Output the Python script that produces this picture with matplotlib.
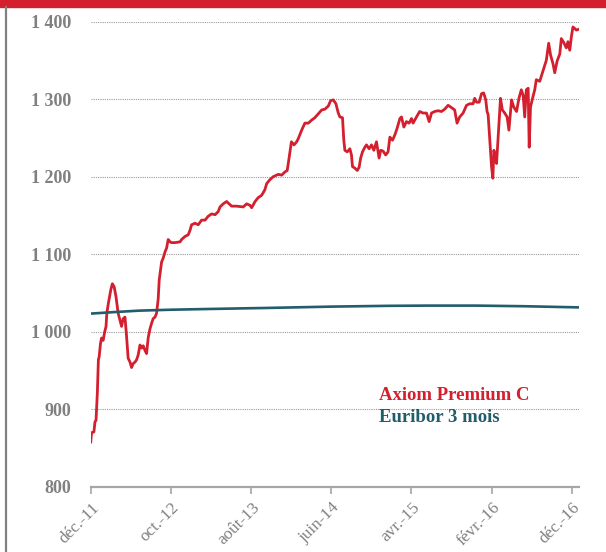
import matplotlib
matplotlib.use("Agg")
import matplotlib.pyplot as plt
import pandas as pd

# Axiom Premium C — valeur liquidative
axiom_dates = [
    "2011-11-30", "2011-12-03", "2011-12-12", "2011-12-16", "2011-12-20", "2011-12-25", "2011-12-29",
    "2012-01-01", "2012-01-06", "2012-01-10", "2012-01-16", "2012-01-22", "2012-01-27", "2012-01-30",
    "2012-02-05", "2012-02-14", "2012-02-20", "2012-02-27", "2012-03-05", "2012-03-13", "2012-03-20",
    "2012-03-26", "2012-04-01", "2012-04-08", "2012-04-14", "2012-04-20", "2012-04-27", "2012-05-03",
    "2012-05-09", "2012-05-16", "2012-05-22", "2012-05-28", "2012-06-04", "2012-06-10", "2012-06-16",
    "2012-06-23", "2012-06-29", "2012-07-05", "2012-07-12", "2012-07-18", "2012-07-24", "2012-07-31",
    "2012-08-06", "2012-08-12", "2012-08-16", "2012-08-21", "2012-08-25", "2012-08-31", "2012-09-07",
    "2012-09-13", "2012-09-19", "2012-09-26", "2012-10-02", "2012-10-15", "2012-11-03", "2012-11-09",
    "2012-11-22", "2012-12-04", "2012-12-11", "2012-12-17", "2012-12-30",
    "2013-01-11", "2013-01-24", "2013-02-06", "2013-02-18", "2013-03-03", "2013-03-16", "2013-03-28",
    "2013-04-04", "2013-04-16", "2013-04-29", "2013-05-05", "2013-05-18", "2013-06-06", "2013-07-01",
    "2013-07-14", "2013-07-27", "2013-08-02", "2013-08-15", "2013-08-27", "2013-09-09", "2013-09-21",
    "2013-09-28", "2013-10-10", "2013-10-23", "2013-11-11", "2013-11-24", "2013-12-06", "2013-12-15",
    "2013-12-23", "2013-12-31",
    "2014-01-10", "2014-01-20", "2014-01-26", "2014-02-08", "2014-02-20", "2014-03-05", "2014-03-18",
    "2014-03-30", "2014-04-12", "2014-04-25", "2014-05-07", "2014-05-20", "2014-05-29", "2014-06-08",
    "2014-06-18", "2014-06-27", "2014-07-03", "2014-07-13", "2014-07-18", "2014-07-22", "2014-07-31",
    "2014-08-10", "2014-08-16", "2014-08-20", "2014-08-29", "2014-09-07", "2014-09-14", "2014-09-20",
    "2014-09-27", "2014-10-06", "2014-10-12", "2014-10-22", "2014-10-31", "2014-11-09", "2014-11-19",
    "2014-11-29", "2014-12-05", "2014-12-14", "2014-12-24",
    "2015-01-02", "2015-01-09", "2015-01-19", "2015-01-28", "2015-02-05", "2015-02-16", "2015-02-22",
    "2015-03-03", "2015-03-13", "2015-03-23", "2015-04-01", "2015-04-07", "2015-04-20", "2015-05-02",
    "2015-05-15", "2015-05-28", "2015-06-07", "2015-06-16", "2015-06-28", "2015-07-11", "2015-07-24",
    "2015-08-05", "2015-08-18", "2015-08-31", "2015-09-12", "2015-09-21", "2015-10-01", "2015-10-14",
    "2015-10-27", "2015-11-08", "2015-11-21", "2015-11-27", "2015-12-04", "2015-12-14", "2015-12-23",
    "2015-12-31",
    "2016-01-08", "2016-01-13", "2016-01-17", "2016-01-23", "2016-01-30", "2016-02-04", "2016-02-08",
    "2016-02-12", "2016-02-18", "2016-02-24", "2016-03-04", "2016-03-11", "2016-03-20", "2016-03-29",
    "2016-04-05", "2016-04-15", "2016-04-23", "2016-05-04", "2016-05-13", "2016-05-22", "2016-05-29",
    "2016-06-04", "2016-06-10", "2016-06-17", "2016-06-21", "2016-06-26", "2016-07-03", "2016-07-12",
    "2016-07-18", "2016-07-31", "2016-08-13", "2016-08-25", "2016-09-03", "2016-09-10", "2016-09-19",
    "2016-09-26", "2016-10-05", "2016-10-15", "2016-10-21", "2016-10-30", "2016-11-09", "2016-11-15",
    "2016-11-22", "2016-11-28", "2016-12-04", "2016-12-11", "2016-12-17", "2016-12-26",
]
axiom_values = [
    858, 870, 871, 884, 886, 921, 964,
    968, 985, 992, 989, 1000, 1007, 1024,
    1037, 1054, 1062, 1058, 1045, 1024, 1015,
    1007, 1017, 1019, 994, 966, 961, 954,
    959, 961, 964, 970, 983, 979, 982,
    976, 972, 992, 1004, 1011, 1017, 1019,
    1024, 1042, 1067, 1080, 1090, 1095, 1103,
    1108, 1119, 1116, 1115, 1115, 1116, 1119,
    1123, 1125, 1131, 1138, 1140,
    1138, 1144, 1144, 1149, 1152, 1151, 1155,
    1161, 1165, 1168, 1166, 1162, 1162, 1161,
    1165, 1163, 1160, 1168, 1173, 1176, 1183,
    1191, 1196, 1200, 1203, 1202, 1206, 1208,
    1226, 1245,
    1241, 1245, 1249, 1260, 1269, 1269, 1273,
    1276, 1281, 1286, 1287, 1291, 1298, 1299,
    1294, 1282, 1277, 1276, 1247, 1234, 1232,
    1236, 1228, 1213, 1211, 1208, 1212, 1224,
    1232, 1238, 1241, 1236, 1241, 1234, 1245,
    1224, 1234, 1233, 1228,
    1232, 1251, 1247, 1254, 1262, 1275, 1277,
    1264, 1271, 1269, 1275, 1269, 1277, 1284,
    1282, 1282, 1271, 1282, 1284, 1285, 1284,
    1287, 1292, 1289, 1286, 1269, 1277, 1282,
    1292, 1294, 1294, 1301, 1296, 1296, 1307,
    1308,
    1299, 1284, 1280, 1250, 1213, 1198, 1234,
    1226, 1217, 1251, 1301, 1286, 1282, 1277,
    1260, 1299, 1290, 1284, 1301, 1312, 1305,
    1277, 1312, 1314, 1238, 1290, 1300, 1312,
    1325, 1323, 1337, 1350, 1372, 1357, 1346,
    1334, 1349, 1358, 1378, 1373, 1366, 1374,
    1363, 1380, 1393, 1391, 1389, 1390,
]

# Euribor 3 mois capitalisé
euribor_dates = [
    "2011-11-30", "2012-03-01", "2012-06-01", "2012-10-01", "2013-03-01", "2013-10-01",
    "2014-06-01", "2015-01-01", "2015-06-01", "2015-12-01", "2016-06-01", "2016-12-26",
]
euribor_values = [1023.5, 1025.5, 1027.3, 1028.5, 1029.5, 1030.8,
                  1032.5, 1033.5, 1033.8, 1033.8, 1033.0, 1031.5]

tick_dates = ["2011-12-01", "2012-10-01", "2013-08-01", "2014-06-01",
              "2015-04-01", "2016-02-01", "2016-12-01"]
tick_labels = ["déc.-11", "oct.-12", "août-13", "juin-14", "avr.-15", "févr.-16", "déc.-16"]
y_ticks = [800, 900, 1000, 1100, 1200, 1300, 1400]

series_names = ["Axiom Premium C", "Euribor 3 mois"]

RED = "#d31f2e"
TEAL = "#215d6b"
GREY = "#808080"
SERIF = ["Liberation Serif", "DejaVu Serif"]

fig = plt.figure(figsize=(6.06, 5.52), dpi=100)
ax = fig.add_axes([0.1502, 0.1178, 0.8052, 0.8432])

ax.plot(pd.to_datetime(axiom_dates), axiom_values, color=RED, linewidth=2.0,
        solid_joinstyle="round", zorder=3)
ax.plot(pd.to_datetime(euribor_dates), euribor_values, color=TEAL, linewidth=1.9,
        zorder=4)

ax.set_ylim(800, 1400)
ax.set_xlim(pd.Timestamp("2011-12-01"), pd.Timestamp("2016-12-27"))

ax.set_yticks(y_ticks)
ax.set_yticklabels([f"{v:,}".replace(",", " ") for v in y_ticks],
                   fontfamily=SERIF, fontweight="bold", fontsize=13, color=GREY)
ax.tick_params(axis="y", length=0, pad=14)
ax.yaxis.grid(True, linestyle=(0, (1, 1)), color="#9a9a9a", linewidth=0.8)
ax.set_axisbelow(True)

ax.set_xticks(pd.to_datetime(tick_dates))
ax.set_xticklabels(tick_labels, rotation=45, ha="right", rotation_mode="anchor",
                   fontfamily=SERIF, fontsize=12.3, color=GREY)
ax.tick_params(axis="x", direction="out", length=5, width=1.2, color="#a6a6a6", pad=4)

for side in ("top", "right", "left"):
    ax.spines[side].set_visible(False)
ax.spines["bottom"].set_color("#a6a6a6")
ax.spines["bottom"].set_linewidth(1.6)

# legend as coloured labels
ax.text(0.590, 0.197, series_names[0], transform=ax.transAxes, color=RED,
        fontfamily=SERIF, fontweight="bold", fontsize=13.5, va="center", ha="left")
ax.text(0.590, 0.150, series_names[1], transform=ax.transAxes, color=TEAL,
        fontfamily=SERIF, fontweight="bold", fontsize=13.5, va="center", ha="left")

# header band and left frame line
fig.patches.append(plt.Rectangle((0, 1 - 7 / 552), 1, 7 / 552, transform=fig.transFigure,
                                 color=RED, zorder=0))
fig.add_artist(plt.Line2D([6 / 606, 6 / 606], [0, 1 - 7 / 552], transform=fig.transFigure,
                          color=GREY, linewidth=1.6))

fig.savefig("out.png", dpi=100)
